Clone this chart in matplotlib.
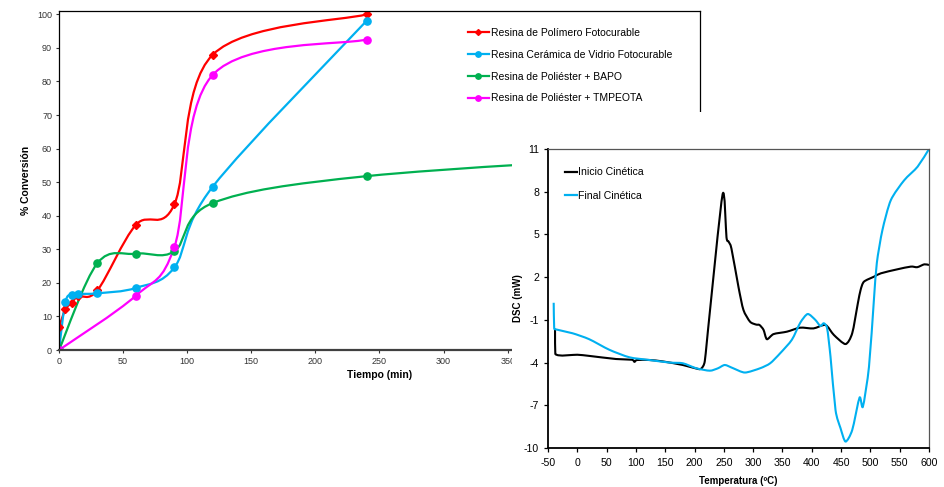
import numpy as np
import matplotlib
matplotlib.use('Agg')
import matplotlib.pyplot as plt
from matplotlib.path import Path
from matplotlib.patches import PathPatch, Rectangle
from matplotlib.lines import Line2D

plt.rcParams['axes.unicode_minus'] = False
plt.rcParams['font.family'] = ['Liberation Sans', 'DejaVu Sans']

# ---------------- Left chart data: % Conversión vs Tiempo (min) ----------------
red_t = [0, 5, 10, 15, 30, 60, 90, 120, 240]
red_v = [6.8, 12.1, 14.1, 16.0, 17.8, 37.3, 43.4, 88.0, 100.0]
cyan_t = [0, 5, 10, 15, 30, 60, 90, 120, 240]
cyan_v = [0, 14.3, 16.5, 16.7, 16.9, 18.5, 24.6, 48.7, 98.1]
green_t = [0, 30, 60, 90, 120, 240, 480]
green_v = [0, 25.9, 28.7, 29.4, 43.8, 51.8, 58.0]
mag_t = [0, 60, 90, 120, 240]
mag_v = [0, 16.2, 30.7, 82.0, 92.5]
left_labels = ['Resina de Polímero Fotocurable',
               'Resina Cerámica de Vidrio Fotocurable',
               'Resina de Poliéster + BAPO',
               'Resina de Poliéster + TMPEOTA']

# ---------------- Right chart data: DSC (mW) vs Temperatura ----------------
ini_T = [-38, -37.5, 0, 20, 66, 93, 97.5, 102, 123, 146, 180, 206, 212, 217.5, 223,
         247.8, 254.5, 258, 263, 275, 283.4, 294.7, 305, 310.8, 317.7, 323.4, 334.8,
         357.6, 380, 403, 423.4, 437.7, 457.6, 469, 478.6, 483.3, 489, 506, 518, 546,
         569, 580, 592, 600]
ini_v = [-1.7, -3.4, -3.45, -3.53, -3.75, -3.8, -3.95, -3.82, -3.82, -3.92, -4.17,
         -4.45, -4.4, -3.9, -1.7, 7.8, 4.8, 4.5, 4.0, 1.3, -0.3, -1.13, -1.33, -1.36,
         -1.7, -2.36, -2.0, -1.83, -1.55, -1.6, -1.36, -2.06, -2.7, -1.94, 0.16, 1.1,
         1.68, 2.03, 2.27, 2.55, 2.74, 2.7, 2.9, 2.85]
fin_T = [-40.3, -39.5, -37.5, -8.3, 20.3, 54.6, 89, 123, 157.5, 180, 203, 226, 240,
         251.7, 266, 286, 311.8, 329, 346, 366, 380.4, 393, 406, 414.6, 420.4, 426.2,
         432, 440.5, 449, 457.6, 469, 481.5, 487.2, 497.6, 506, 511, 520.5, 534.8,
         557.6, 580.6, 600]
fin_v = [0.2, -1.5, -1.66, -1.94, -2.36, -3.1, -3.63, -3.82, -4.0, -4.05, -4.4, -4.57,
         -4.4, -4.17, -4.4, -4.7, -4.4, -4.05, -3.35, -2.4, -1.2, -0.59, -1.0, -1.43,
         -1.24, -1.6, -3.6, -7.33, -8.6, -9.55, -8.74, -6.46, -7.1, -4.3, 0.4, 3.0,
         5.3, 7.4, 8.8, 9.76, 11.0]
right_labels = ['Inicio Cinética', 'Final Cinética']

C_RED, C_CYAN, C_GREEN, C_MAG = '#FF0000', '#00B0F0', '#00B050', '#FF00FF'


def smooth_path(x, y, k=1/6, clamp=False):
    P = np.column_stack([x, y]).astype(float)
    n = len(P)
    verts = [P[0]]
    codes = [Path.MOVETO]
    for i in range(n - 1):
        p0 = P[i - 1] if i > 0 else P[i]
        p1, p2 = P[i], P[i + 1]
        p3 = P[i + 2] if i + 2 < n else P[i + 1]
        t1 = (p2 - p0) * k
        t2 = (p3 - p1) * k
        if clamp:
            dx = p2[0] - p1[0]
            if t1[0] > dx:
                t1 = t1 * dx / t1[0]
            if t2[0] > dx:
                t2 = t2 * dx / t2[0]
        verts += [p1 + t1, p2 - t2, p2]
        codes += [Path.CURVE4] * 3
    return Path(verts, codes)


W, H = 945, 487
fig = plt.figure(figsize=(W / 100, H / 100), dpi=100)
fig.patch.set_facecolor('white')


def fx(px):
    return px / W


def fy(py):
    return 1 - py / H


# ---------------- Left axes ----------------
ax1 = fig.add_axes([fx(59), fy(350), (700 - 59) / W, (350 - 11) / H], zorder=0)
ax1.set_xlim(0, 500)
ax1.set_ylim(0, 101)
ax1.set_xticks(np.arange(0, 501, 50))
ax1.set_yticks(np.arange(0, 101, 10))
for s in ['top', 'right', 'left']:
    ax1.spines[s].set_color('black')
    ax1.spines[s].set_linewidth(0.9)
ax1.spines['bottom'].set_color('#404040')
ax1.spines['bottom'].set_linewidth(1.6)
ax1.tick_params(direction='out', length=2.5, width=0.8, labelsize=6.5, pad=2.5,
                labelcolor='#333333', color='#333333')
ax1.set_xlabel('Tiempo (min)', fontsize=7.5, fontweight='bold')
ax1.set_ylabel('% Conversión', fontsize=7.5, fontweight='bold')
ax1.xaxis.set_label_coords(0.5, -0.058)
ax1.yaxis.set_label_coords(-0.044, 0.5)

series = [(red_t, red_v, C_RED, 'D', 4.0),
          (cyan_t, cyan_v, C_CYAN, 'o', 5.2),
          (green_t, green_v, C_GREEN, 'o', 5.2),
          (mag_t, mag_v, C_MAG, 'o', 5.2)]
handles = []
for t, v, c, m, ms in series:
    ax1.add_patch(PathPatch(smooth_path(t, v), facecolor='none', edgecolor=c,
                            lw=1.6, transform=ax1.transData, capstyle='round',
                            joinstyle='round'))
    tt = [a for a in t if a <= 240]
    vv = [b for a, b in zip(t, v) if a <= 240]
    ax1.plot(tt, vv, ls='none', marker=m, ms=ms, color=c, mec=c)
    handles.append(Line2D([], [], color=c, lw=1.6, marker=m, ms=ms * 0.75))

fs_l = 7.5
fs_px = fs_l * 100 / 72
ax1.legend(handles, left_labels, loc='upper left',
           bbox_to_anchor=(fx(468 - 0.4 * fs_px), fy(33 - 0.875 * fs_px)),
           bbox_transform=fig.transFigure, frameon=False, fontsize=fs_l,
           handlelength=2.0, handletextpad=0.2, labelspacing=1.13,
           borderaxespad=0, borderpad=0.4, numpoints=1)

# ---------------- white panel covering part of the left chart ----------------
fig.add_artist(Rectangle((fx(512), 0), (W - 512) / W, (H - 112) / H,
                         transform=fig.transFigure, facecolor='white',
                         edgecolor='none', zorder=1))

# ---------------- Right axes ----------------
ax2 = fig.add_axes([fx(548), fy(448), (929 - 548) / W, (448 - 149) / H], zorder=2)
ax2.set_xlim(-50, 600)
ax2.set_ylim(-10, 11)
ax2.set_xticks(np.arange(-50, 601, 50))
ax2.set_yticks(np.arange(-10, 12, 3))
for s in ['top', 'right']:
    ax2.spines[s].set_color('#555555')
    ax2.spines[s].set_linewidth(0.9)
for s in ['left', 'bottom']:
    ax2.spines[s].set_color('black')
    ax2.spines[s].set_linewidth(1.3)
ax2.tick_params(direction='out', length=3, width=0.9, labelsize=7.6)
ax2.tick_params(axis='x', pad=4.5)
ax2.tick_params(axis='y', pad=3.5)
ax2.set_xlabel('Temperatura (ºC)', fontsize=7, fontweight='bold')
ax2.set_ylabel('DSC (mW)', fontsize=7, fontweight='bold')
ax2.xaxis.set_label_coords(0.5, -0.095)
ax2.yaxis.set_label_coords(-0.066, 0.5)

ax2.add_patch(PathPatch(smooth_path(ini_T, ini_v, k=1/8, clamp=True), facecolor='none',
                        edgecolor='black', lw=1.5, transform=ax2.transData,
                        joinstyle='round'))
ax2.add_patch(PathPatch(smooth_path(fin_T, fin_v, k=1/8, clamp=True), facecolor='none',
                        edgecolor=C_CYAN, lw=1.5, transform=ax2.transData,
                        joinstyle='round'))
h2 = [Line2D([], [], color='black', lw=1.6), Line2D([], [], color=C_CYAN, lw=1.6)]
fs_r = 7.6
fr_px = fs_r * 100 / 72
ax2.legend(h2, right_labels, loc='upper left',
           bbox_to_anchor=(fx(565 - 0.4 * fr_px), fy(173.3 - 0.95 * fr_px)),
           bbox_transform=fig.transFigure, frameon=False,
           prop={'size': fs_r},
           handlelength=1.15, handletextpad=0.1, labelspacing=1.25,
           borderaxespad=0, borderpad=0.4)

fig.savefig('out.png', dpi=100, facecolor='white')
